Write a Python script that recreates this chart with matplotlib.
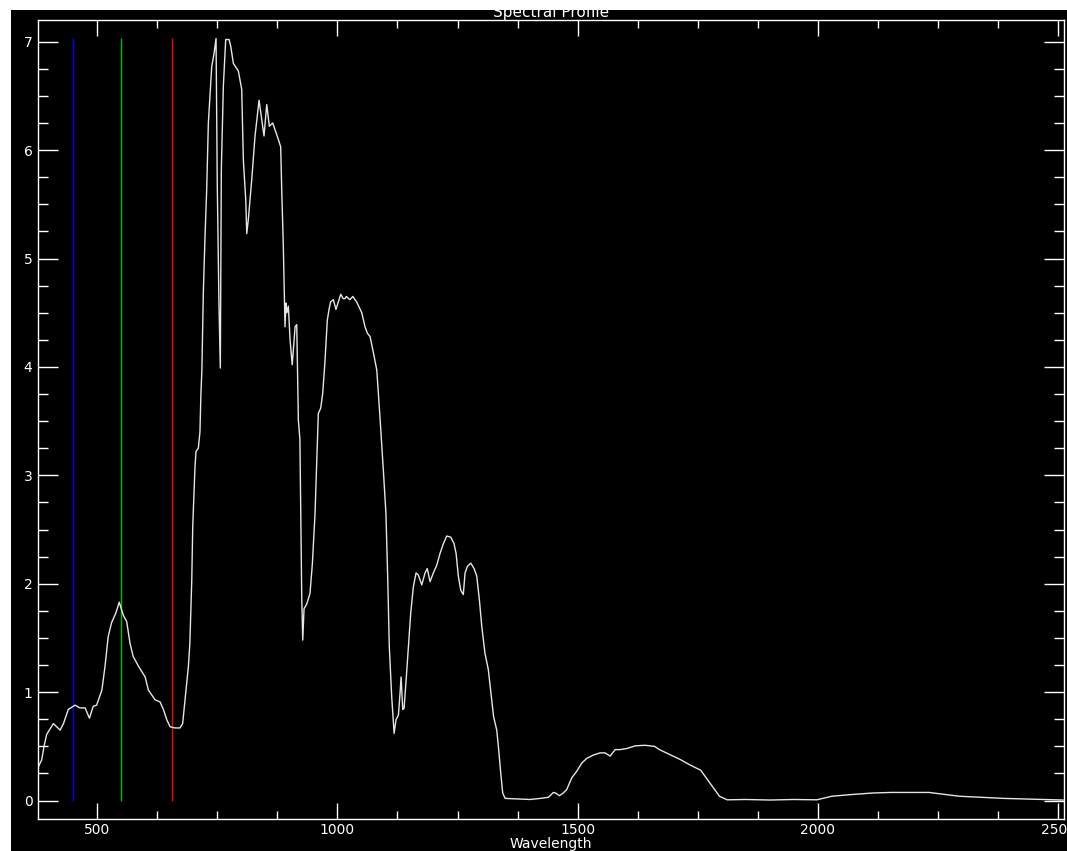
import numpy as np
import matplotlib
matplotlib.use('Agg')
import matplotlib.pyplot as plt
from matplotlib import ticker as mtick
from matplotlib.patches import Rectangle

# 파장 (nm)
wavelength = [377.6, 384.7, 389.5, 395, 409, 416, 423, 430, 440, 454, 464, 475, 484, 492, 499,
              510, 516.5, 523, 530, 539, 546, 554.5, 561.6, 568.5, 575, 586, 600, 606.6, 620.5,
              631, 638, 645, 652, 662, 672.5, 678, 683, 690, 693, 697, 699, 701.7, 703.7, 705.8,
              710.6, 714, 716, 718, 721, 724.5, 728, 731.5, 738.5, 743.3, 747.5, 750, 753.5,
              756.4, 758.5, 762.7, 767.6, 774.6, 778, 783.5, 793.9, 800.9, 804.3, 809.3, 811.4,
              814.7, 821.8, 828.6, 837, 842.6, 847.3, 853, 858.4, 865.4, 870, 877, 882, 884,
              887.5, 891, 893, 895, 898, 901.5, 906, 912, 915.4, 918.8, 922, 923.7, 925.8, 927.9,
              930.6, 936, 943, 948, 953.5, 957, 960.3, 965.3, 969.5, 974, 979, 983, 986, 991.6,
              997, 1007, 1012, 1016, 1018.5, 1026, 1032, 1040, 1050.7, 1057.5, 1062.5, 1068,
              1075, 1082, 1089, 1096, 1101, 1104.8, 1108, 1113, 1118, 1122, 1127, 1130.4, 1132.5,
              1136, 1138.7, 1143, 1147.7, 1152.6, 1158, 1163.7, 1168.5, 1175.6, 1182.4, 1187,
              1192.8, 1199.7, 1206.7, 1213.6, 1220.5, 1227.5, 1235.9, 1242.7, 1247, 1251.7,
              1256.7, 1262, 1265.7, 1270.5, 1277.5, 1284.4, 1290, 1295.5, 1300.4, 1307, 1314,
              1321, 1325, 1331.6, 1335, 1340, 1344, 1349, 1375, 1401, 1422, 1439, 1449.5, 1454,
              1462, 1470, 1477, 1487.7, 1498, 1508.5, 1519, 1532.7, 1546.6, 1557, 1567.5, 1578,
              1588, 1602, 1620, 1640, 1660, 1670, 1694, 1713, 1733, 1756, 1775.6, 1795, 1811,
              1850, 1900, 1950, 1997.6, 2029, 2068, 2114.5, 2153, 2231, 2294, 2387, 2488, 2510]

# 반사값
value = [0.31, 0.375, 0.50, 0.61, 0.71, 0.68, 0.65, 0.71, 0.84, 0.88, 0.855, 0.855, 0.76, 0.87, 0.88,
         1.02, 1.24, 1.51, 1.64, 1.73, 1.83, 1.71, 1.65, 1.45, 1.33, 1.24, 1.14, 1.02, 0.93,
         0.91, 0.84, 0.745, 0.68, 0.67, 0.67, 0.71, 0.93, 1.24, 1.45, 2.04, 2.53, 2.84, 3.08, 3.22,
         3.25, 3.40, 3.75, 3.97, 4.68, 5.20, 5.63, 6.25, 6.77, 6.89, 7.03, 5.70, 4.59,
         3.99, 5.82, 6.59, 7.02, 7.02, 6.96, 6.80, 6.73, 6.56, 5.91, 5.54, 5.23,
         5.36, 5.73, 6.13, 6.46, 6.28, 6.13, 6.42, 6.22, 6.25, 6.19, 6.10, 6.03, 5.66,
         5.11, 4.37, 4.59, 4.50, 4.56, 4.25, 4.02, 4.37, 4.39, 3.51, 3.33, 2.65, 1.88, 1.48,
         1.77, 1.81, 1.91, 2.19, 2.65, 3.11, 3.57, 3.62, 3.76, 4.04, 4.43, 4.54, 4.60, 4.62,
         4.53, 4.67, 4.63, 4.63, 4.65, 4.62, 4.65, 4.60, 4.50, 4.37, 4.31, 4.28,
         4.13, 3.97, 3.51, 3.02, 2.65, 2.04, 1.42, 0.96, 0.62, 0.745, 0.79, 0.99, 1.14,
         0.84, 0.85, 1.11, 1.42, 1.73, 1.97, 2.10, 2.08, 1.99, 2.10, 2.14,
         2.02, 2.10, 2.17, 2.28, 2.37, 2.44, 2.43, 2.37, 2.28, 2.07,
         1.94, 1.90, 2.10, 2.16, 2.19, 2.14, 2.07, 1.85, 1.61, 1.36, 1.21,
         0.93, 0.775, 0.65, 0.50, 0.25, 0.07, 0.02, 0.015, 0.01, 0.02, 0.03, 0.075, 0.07,
         0.045, 0.07, 0.10, 0.21, 0.27, 0.345, 0.39, 0.42, 0.44, 0.44, 0.41, 0.47,
         0.47, 0.48, 0.505, 0.51, 0.50, 0.47, 0.42, 0.38, 0.33, 0.28, 0.16, 0.04, 0.007,
         0.01, 0.005, 0.01, 0.007, 0.04, 0.055, 0.07, 0.075, 0.075, 0.04, 0.02, 0.007, 0.005]

# RGB 밴드 위치
bandWave = [450, 550, 655]
bandColor = ['#0000ff', '#00c000', '#ff0000']

fig = plt.figure(figsize=(10.67, 8.51), dpi=100, facecolor='black')
ax = fig.add_axes([38 / 1067, 32 / 851, 1026 / 1067, 799 / 851])
ax.set_facecolor('black')

# 밴드 세로선 (0 ~ 최대값)
top = max(value)
for w, c in zip(bandWave, bandColor):
    ax.vlines(w, 0, top, colors=c, linewidth=1)

ax.plot(wavelength, value, color='#e6e6e6', linewidth=1)

ax.set_xlim(377, 2512)
ax.set_ylim(-0.17, 7.2)

ax.xaxis.set_major_locator(mtick.MultipleLocator(500))
ax.xaxis.set_minor_locator(mtick.MultipleLocator(125))
ax.yaxis.set_major_locator(mtick.MultipleLocator(1))
ax.yaxis.set_minor_locator(mtick.MultipleLocator(0.25))

ax.tick_params(axis='both', which='both', direction='in', colors='white',
               top=True, right=True, labelsize=10, width=1)
ax.tick_params(axis='x', which='major', length=11.5, pad=3)
ax.tick_params(axis='x', which='minor', length=5.8)
ax.tick_params(axis='y', which='major', length=14.4, pad=4)
ax.tick_params(axis='y', which='minor', length=7.2)

for s in ax.spines.values():
    s.set_color('white')
    s.set_linewidth(1)

ax.set_title('Spectral Profile', color='white', fontsize=11, pad=2)
ax.set_xlabel('Wavelength', color='white', fontsize=10, labelpad=0)
ax.set_ylabel('Value', color='white', fontsize=7)
ax.yaxis.set_label_coords(-0.025, 0.5)

# 위쪽, 왼쪽 흰 테두리
fig.add_artist(Rectangle((0, 1 - 10 / 851), 1, 10 / 851, transform=fig.transFigure,
                         facecolor='white', edgecolor='none', zorder=10))
fig.add_artist(Rectangle((0, 0), 11 / 1067, 1, transform=fig.transFigure,
                         facecolor='white', edgecolor='none', zorder=10))

plt.savefig('out.png', dpi=100, facecolor='black')
